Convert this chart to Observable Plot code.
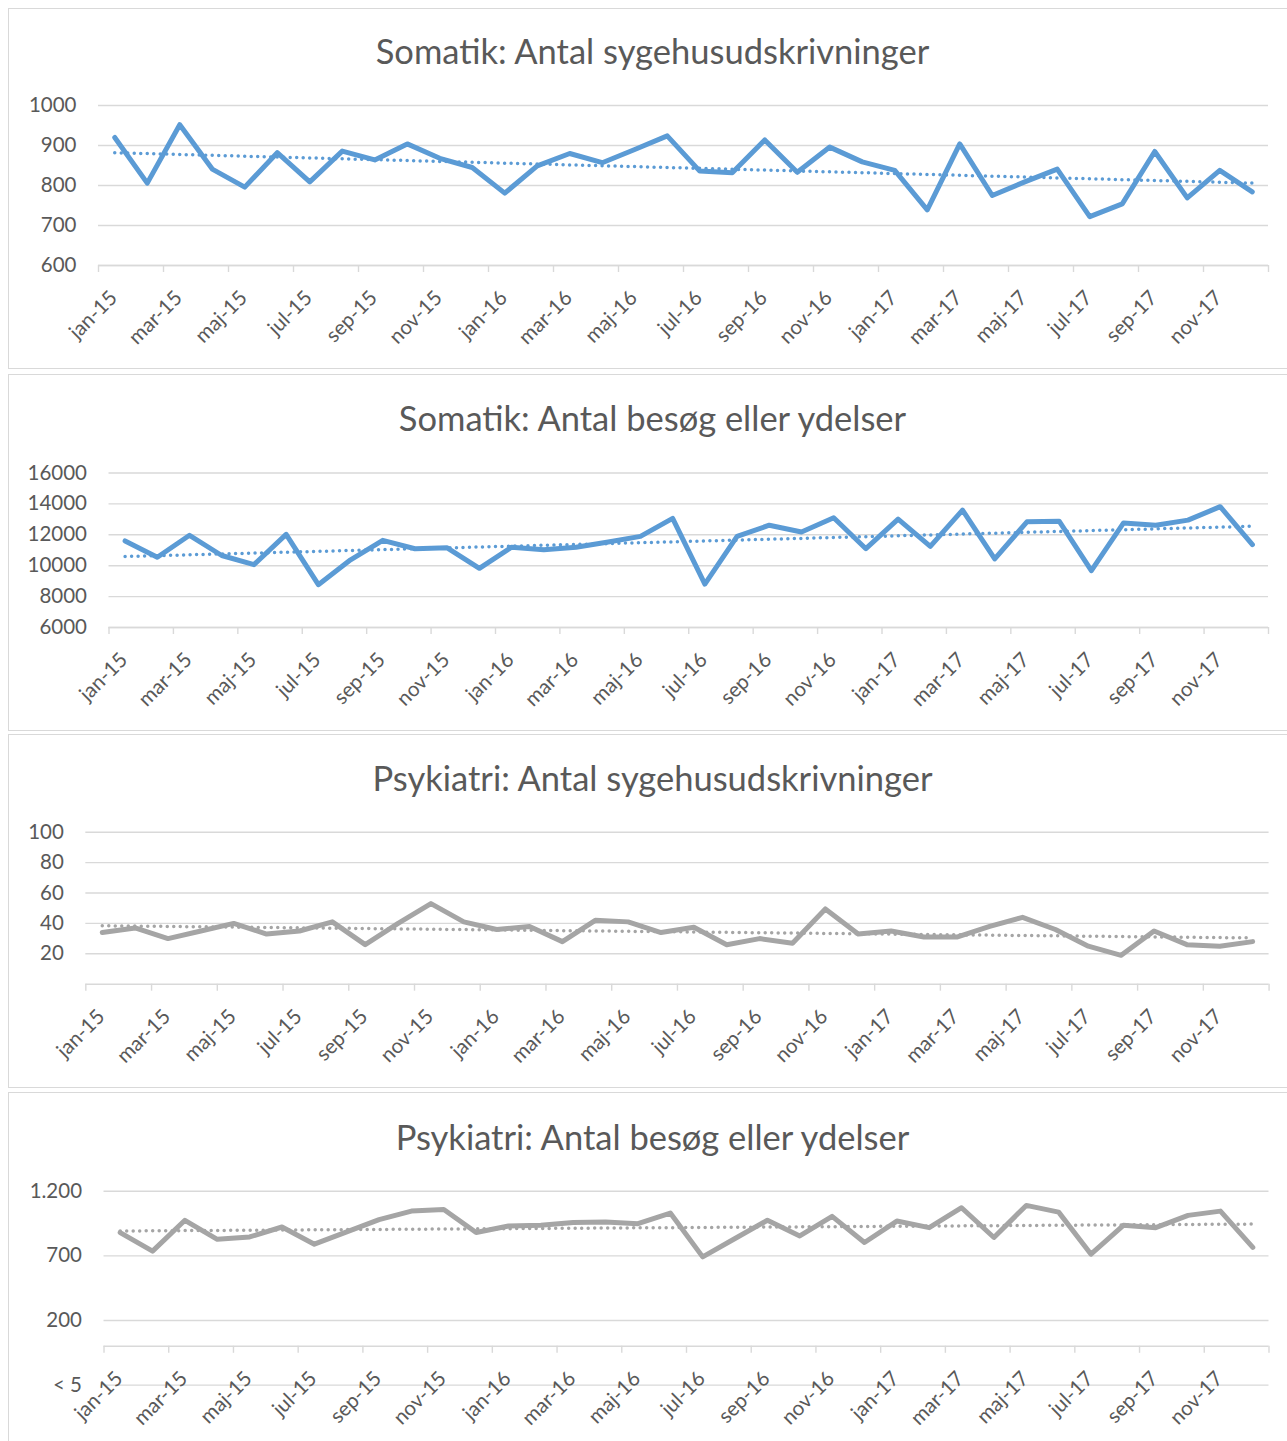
<!DOCTYPE html>
<html><head><meta charset="utf-8">
<script src="https://cdn.jsdelivr.net/npm/d3@7"></script>
<script src="https://cdn.jsdelivr.net/npm/@observablehq/plot@0.6"></script>
<style>
html,body{margin:0;padding:0;background:#fff;}
body{width:1287px;height:1441px;overflow:hidden;position:relative;font-family:Lato,sans-serif;}
.box{position:absolute;left:8px;width:1300px;border:1px solid #d9d9d9;box-sizing:border-box;}
.title{position:absolute;left:0;width:1305px;text-align:center;color:#595959;font-size:34.5px;line-height:34px;white-space:nowrap;}
.chart{position:absolute;left:0;}
</style></head><body>
<script>
const months = ["jan-15","feb-15","mar-15","apr-15","maj-15","jun-15","jul-15","aug-15","sep-15","okt-15","nov-15","dec-15",
  "jan-16","feb-16","mar-16","apr-16","maj-16","jun-16","jul-16","aug-16","sep-16","okt-16","nov-16","dec-16",
  "jan-17","feb-17","mar-17","apr-17","maj-17","jun-17","jul-17","aug-17","sep-17","okt-17","nov-17","dec-17"];

const titles = ["Somatik: Antal sygehusudskrivninger","Somatik: Antal besøg eller ydelser",
  "Psykiatri: Antal sygehusudskrivninger","Psykiatri: Antal besøg eller ydelser"];

const somatikUdskrivninger = [920,806,952,841,796,882,809,886,864,904,868,845,
  781,849,880,857,890,924,836,832,914,833,896,859,
  838,739,904,775,809,841,722,754,885,769,838,784];
const somatikBesoeg = [11600,10550,11970,10660,10070,12030,8770,10380,11640,11100,11160,9830,
  11200,11030,11200,11530,11900,13060,8810,11900,12620,12180,13100,11100,
  13010,11250,13600,10440,12840,12880,9680,12770,12620,12950,13820,11360];
const psykiatriUdskrivninger = [34,37,30,35,40,33,35,41,26,40,53,41,
  36,38,28,42,41,34,37.5,26,30,27,49.5,33,
  35,31,31,38,44,36,25,19,35,26,25,28];
const psykiatriBesoeg = [880,736,975,828,846,923,790,885,980,1046,1059,880,
  931,936,957,962,949,1031,692,834,975,854,1005,803,
  969,918,1072,842,1090,1038,713,936,918,1013,1046,765];

const yTicks1 = [600,700,800,900,1000];
const yTicks2 = [6000,8000,10000,12000,14000,16000];
const yTicks3 = [20,40,60,80,100];
const yTicks4 = [-300,200,700,1200];
const yTickLabels4 = ["< 5","200","700","1.200"];

const blue = "#5b9bd5", gray = "#a5a5a5";

const panels = [
  {values: somatikUdskrivninger, color: blue, yDomain: [600,1000], yTicks: yTicks1, axisAt: 600,
   boxTop: 8, boxH: 361, titleY: 51, top: 80, marginTop: 25, plotH: 160, marginLeft: 98, marginRight: 19},
  {values: somatikBesoeg, color: blue, yDomain: [6000,16000], yTicks: yTicks2, axisAt: 6000,
   boxTop: 374, boxH: 357, titleY: 418, top: 447, marginTop: 25.5, plotH: 154.5, marginLeft: 108.5, marginRight: 19},
  {values: psykiatriUdskrivninger, color: gray, yDomain: [0,100], yTicks: yTicks3, axisAt: 0,
   boxTop: 734, boxH: 354, titleY: 778, top: 806, marginTop: 25.7, plotH: 152, marginLeft: 85.3, marginRight: 18.4},
  {values: psykiatriBesoeg, color: gray, yDomain: [-300,1200], yTicks: yTicks4, yLabels: yTickLabels4, axisAt: 0,
   boxTop: 1092, boxH: 400, titleY: 1137, top: 1165, marginTop: 25.7, plotH: 193.9, marginLeft: 103.5, marginRight: 18.5}
];

panels.forEach((p, k) => {
  const box = document.createElement("div");
  box.className = "box";
  box.style.top = p.boxTop + "px";
  box.style.height = p.boxH + "px";
  document.body.appendChild(box);

  const t = document.createElement("div");
  t.className = "title";
  t.textContent = titles[k];
  t.style.top = (p.titleY - 17) + "px";
  document.body.appendChild(t);

  const data = p.values.map((v, i) => ({i, v}));
  const labelIdx = months.map((_, i) => i).filter(i => i % 2 === 0);
  const bounds = d3.range(-0.5, 36, 2);
  const fmt = d => p.yLabels ? p.yLabels[p.yTicks.indexOf(d)] : String(d);
  const marginBottom = 80;
  const svg = Plot.plot({
    width: 1287,
    height: p.marginTop + p.plotH + marginBottom,
    marginTop: p.marginTop, marginBottom, marginLeft: p.marginLeft, marginRight: p.marginRight,
    style: {fontFamily: "Lato, sans-serif", fontSize: "20.5px", color: "#595959", background: "transparent", overflow: "visible"},
    x: {domain: [-0.5, 35.5], axis: null},
    y: {domain: p.yDomain, axis: null},
    marks: [
      Plot.gridY(p.yTicks, {stroke: "#d9d9d9", strokeOpacity: 1, strokeWidth: 1.4}),
      Plot.ruleY([p.axisAt], {stroke: "#d9d9d9", strokeWidth: 1.6}),
      Plot.ruleX(bounds, {x: d => d, y1: () => p.axisAt, y2: () => p.axisAt, insetBottom: -7, stroke: "#d9d9d9", strokeWidth: 1.4}),
      Plot.axisY(p.yTicks, {tickSize: 0, tickPadding: 22, tickFormat: fmt, label: null}),
      Plot.text(labelIdx, {x: d => d, y: () => p.axisAt, text: d => months[d], rotate: -45, textAnchor: "end", lineAnchor: "middle", dy: 29, dx: -1, fill: "#595959"}),
      Plot.line(data, {x: "i", y: "v", stroke: p.color, strokeWidth: 5, strokeLinejoin: "round", strokeLinecap: "round"}),
      Plot.linearRegressionY(data, {x: "i", y: "v", stroke: p.color, strokeWidth: 3.5, strokeDasharray: "0 6.5", strokeLinecap: "round", ci: 0})
    ]
  });
  const wrap = document.createElement("div");
  wrap.className = "chart";
  wrap.style.top = p.top + "px";
  wrap.appendChild(svg);
  document.body.appendChild(wrap);
});
</script>
</body></html>
